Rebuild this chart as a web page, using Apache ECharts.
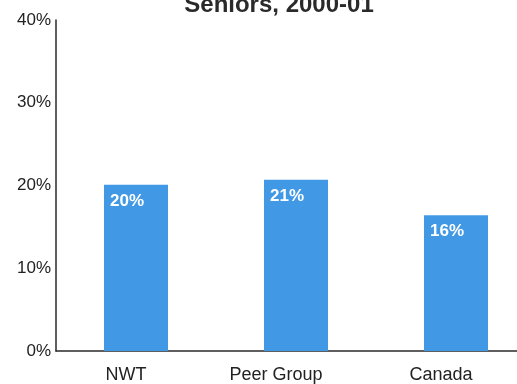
<!DOCTYPE html>
<html>
<head>
<meta charset="utf-8">
<script src="https://cdn.jsdelivr.net/npm/echarts@6/dist/echarts.min.js"></script>
<style>html,body{margin:0;padding:0;background:#fff;overflow:hidden}#c{width:540px;height:384px}</style>
</head>
<body>
<div id="c"></div>
<script>
const titleText = "Seniors, 2000-01";
const categories = ["NWT", "Peer Group", "Canada"];
const values = [20.1, 20.7, 16.4];
const yTicks = [0, 10, 20, 30, 40];

const labelFont = {fontFamily: 'Liberation Sans, Arial', fontSize: 18, color: '#222'};
const chart = echarts.init(document.getElementById('c'), null, {renderer: 'canvas'});
chart.setOption({
  animation: false,
  backgroundColor: '#ffffff',
  title: {
    text: titleText,
    left: 274,
    textAlign: 'center',
    top: -12,
    textStyle: {fontFamily: 'Liberation Sans, Arial', fontSize: 24, fontWeight: 'bold', color: '#2a2a2a'}
  },
  grid: {left: 56, right: 4, top: 20, bottom: 32, containLabel: false},
  xAxis: {
    type: 'category',
    data: categories,
    axisLine: {lineStyle: {color: '#2a2a2a', width: 1.5}},
    axisTick: {show: false},
    axisLabel: {
      margin: 15,
      formatter: (v, i) => '{c' + i + '|' + v + '}',
      rich: {
        c0: Object.assign({padding: [0, 20, 0, 0]}, labelFont),
        c1: Object.assign({padding: [0, 40, 0, 0]}, labelFont),
        c2: Object.assign({padding: [0, 30, 0, 0]}, labelFont)
      }
    }
  },
  yAxis: {
    type: 'value',
    min: yTicks[0],
    max: yTicks[yTicks.length - 1],
    interval: 10,
    axisLine: {show: true, lineStyle: {color: '#2a2a2a', width: 1.5}},
    axisTick: {show: false},
    splitLine: {show: false},
    axisLabel: {fontFamily: 'Liberation Sans, Arial', fontSize: 17, color: '#222', margin: 5, formatter: v => v + '%'}
  },
  series: [{
    type: 'bar',
    data: values,
    barWidth: '40%',
    itemStyle: {color: '#4199e6'},
    label: {
      show: true,
      position: 'insideTopLeft',
      distance: 6,
      offset: [0, 2],
      color: '#ffffff',
      fontFamily: 'Liberation Sans, Arial',
      fontWeight: 'bold',
      fontSize: 17,
      formatter: p => Math.round(p.value) + '%'
    }
  }]
});
</script>
</body>
</html>
